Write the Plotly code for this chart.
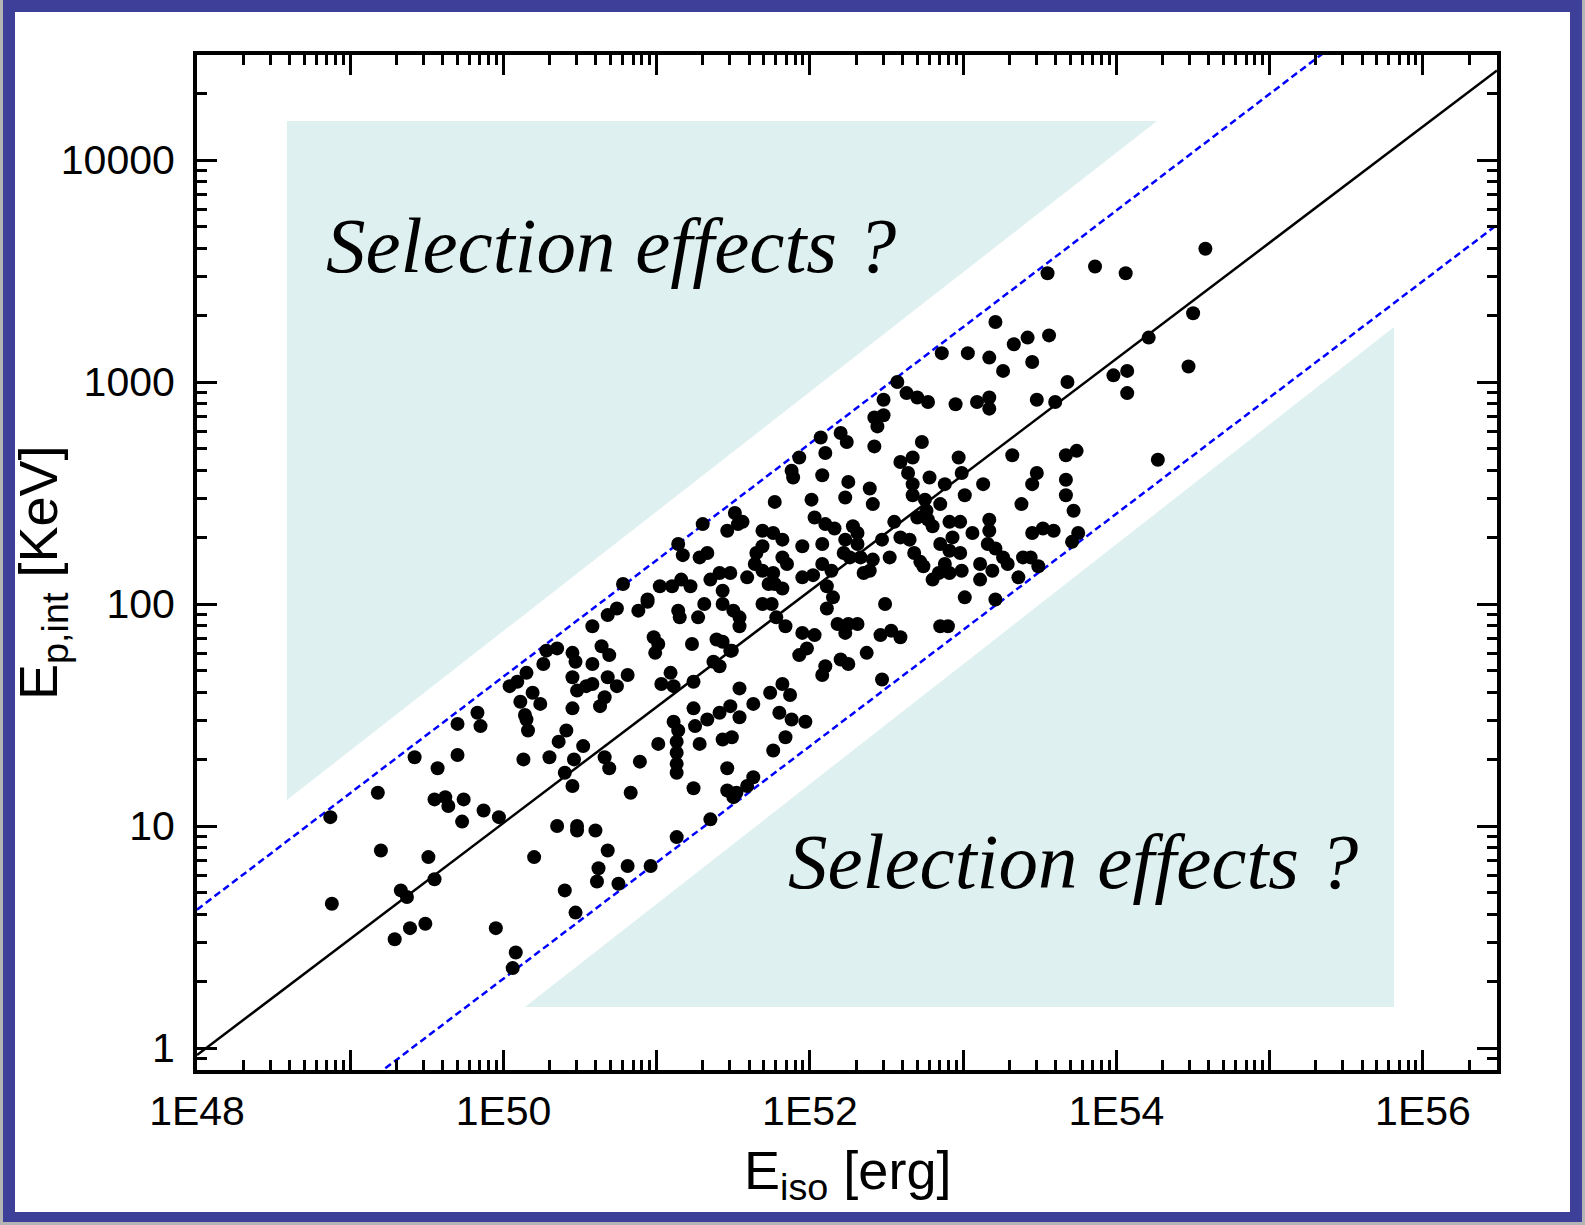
import plotly.graph_objects as go

# ---------------- data (log10 units) ----------------
log10_eiso = [
    # lower-left end of the band
    49.70, 49.85, 49.83, 50.16, 50.15, 50.41, 50.36, 50.52, 49.42, 49.70,
    49.57, 50.13, 50.30, 50.46, 50.40, 50.45, 50.66, 49.18, 48.87, 49.55,
    49.62, 49.64, 49.74, 49.73, 49.87, 49.97, 50.35, 50.48, 50.48, 50.60,
    50.68, 49.20, 49.51, 50.20, 50.62, 50.61, 49.55, 49.33, 49.37, 50.40,
    48.88, 50.47, 49.49, 49.39, 49.29, 49.95, 50.08, 50.06,
    # 1E50 - 1E51.5
    50.09, 50.15, 50.04, 50.11, 50.14, 50.24, 50.19, 50.28, 50.35, 50.26,
    50.45, 50.47, 50.58, 50.45, 50.54, 50.48, 50.58, 50.45, 50.63, 50.66,
    50.68, 50.74, 50.81, 50.64, 50.69, 50.58, 50.68, 50.74, 50.88, 50.94,
    51.14, 51.15, 51.27, 51.31, 51.43, 51.50, 51.54, 50.98, 51.01, 50.99,
    51.23, 51.43, 51.49, 51.03, 51.09, 51.11, 51.24, 51.37, 51.54, 51.24,
    51.11, 51.14, 51.13, 51.13, 51.13, 51.13, 51.25, 51.33, 51.41, 51.48,
    51.54, 51.01, 51.28, 51.43, 51.49, 50.89, 51.24, 51.46, 51.46, 51.52,
    51.59, 50.69, 50.83, 51.35, 51.13, 50.96, 50.81, 50.75,
    # 1E51 - 1E52
    51.30, 51.46, 51.53, 51.69, 51.76, 51.82, 51.95, 51.65, 51.69, 51.82,
    51.85, 51.64, 51.14, 51.17, 51.28, 51.33, 51.41, 51.48, 51.35, 51.43,
    51.59, 51.77, 51.82, 51.95, 51.02, 51.10, 51.16, 51.22, 50.78, 50.94,
    51.54, 51.69, 51.75, 51.78, 51.84, 51.95, 51.93, 51.41, 51.63, 51.74,
    51.82, 51.87, 51.80, 51.88, 51.97, 51.84, 51.76, 51.50, 51.63,
    # 1E52 - 1E53.6
    53.26, 52.57, 52.63, 52.70, 52.77, 52.48, 52.95, 53.09, 53.17, 53.17,
    53.48, 53.60, 52.42, 52.48, 52.44, 52.07, 52.20, 52.24, 51.93, 52.10,
    52.42, 52.73, 52.97, 53.32, 52.59, 52.67, 52.64, 51.88, 51.89, 52.08,
    52.99, 53.48, 53.45, 52.78, 52.67, 52.88, 53.13, 52.25, 52.23, 52.39,
    52.41, 52.67, 52.75, 53.01, 51.77, 52.01, 53.38, 52.85, 52.76, 52.70,
    52.77, 52.03, 52.10, 52.16, 52.28, 52.31, 52.55, 52.80, 52.91, 52.98,
    53.17, 53.17, 53.45, 53.52, 53.59, 52.93, 53.06, 52.59, 52.65, 52.08,
    52.23, 52.31, 52.47, 52.85, 52.91, 52.98, 53.16, 53.21, 53.26, 52.22,
    52.26, 52.33, 52.41, 52.52, 52.68, 52.72, 52.74, 53.39, 53.49, 52.08,
    52.14, 53.11, 53.19, 52.88, 52.99, 52.84, 52.80, 52.91, 51.69, 51.76,
    52.02, 52.35, 52.39, 53.11, 53.36, 52.11, 52.15, 52.11, 52.49, 53.01,
    53.21, 52.18, 52.25, 52.31, 52.23, 52.03, 52.46, 52.53, 52.59, 52.37,
    52.85, 52.90, 51.98, 52.10, 52.20, 52.25, 52.08, 52.47,
    52.86, 53.03, 53.17, 53.45, 51.51, 51.56, 51.73, 51.39, 51.48,
    # bright end
    54.58, 53.86, 54.06, 53.55, 53.21, 53.42, 53.56, 53.33, 54.50, 54.21,
    54.47, 53.98, 54.07, 54.07, 53.68, 53.67, 53.74, 54.27, 53.67, 53.67,
    53.72, 53.75, 53.71, 53.29, 53.44,
]

log10_ep = [
    1.46, 1.45, 1.51, 1.43, 1.48, 1.43, 1.38, 1.36, 1.31, 1.32,
    1.26, 1.30, 1.31, 1.30, 1.24, 1.18, 1.31, 1.15, 1.04, 1.12,
    1.13, 1.09, 1.12, 1.02, 1.07, 1.04, 1.00, 1.00, 0.98, 0.98,
    0.89, 0.89, 0.86, 0.86, 0.81, 0.75, 0.76, 0.71, 0.68, 0.71,
    0.65, 0.61, 0.56, 0.54, 0.49, 0.54, 0.43, 0.36,
    1.65, 1.69, 1.63, 1.56, 1.50, 1.55, 1.60, 1.79, 1.80, 1.73,
    1.78, 1.74, 1.73, 1.67, 1.63, 1.61, 1.64, 1.53, 1.54, 1.58,
    1.67, 1.63, 1.68, 1.81, 1.77, 1.90, 1.95, 1.98, 1.97, 2.01,
    1.97, 1.94, 1.94, 2.00, 2.00, 1.97, 1.90, 1.85, 1.82, 1.78,
    1.82, 1.83, 1.79, 1.64, 1.69, 1.63, 1.65, 1.74, 1.62, 1.53,
    1.47, 1.43, 1.38, 1.33, 1.28, 1.24, 1.45, 1.48, 1.51, 1.54,
    1.49, 1.37, 1.37, 1.39, 1.40, 1.29, 1.17, 1.26, 1.16, 1.15,
    1.18, 1.26, 1.15, 1.03, 0.95, 0.82, 0.82, 0.74,
    2.36, 2.33, 2.36, 2.33, 2.32, 2.29, 2.26, 2.23, 2.26, 2.21,
    2.18, 2.18, 2.27, 2.22, 2.21, 2.23, 2.14, 2.14, 2.11, 2.06,
    2.12, 2.09, 2.07, 2.12, 2.08, 2.08, 2.11, 2.08, 2.09, 2.02,
    1.94, 2.00, 2.00, 1.94, 1.90, 1.87, 1.77, 1.72, 1.55, 1.60,
    1.64, 1.59, 1.51, 1.48, 1.47, 1.40, 1.34, 1.13, 1.22,
    3.05, 3.00, 2.95, 2.93, 2.91, 2.92, 2.90, 2.91, 2.93, 2.88,
    2.92, 2.91, 2.84, 2.85, 2.80, 2.75, 2.77, 2.73, 2.66, 2.68,
    2.71, 2.73, 2.66, 2.67, 2.64, 2.66, 2.59, 2.60, 2.57, 2.58,
    2.59, 2.59, 2.54, 2.57, 2.54, 2.54, 2.54, 2.55, 2.48, 2.52,
    2.45, 2.49, 2.47, 2.49, 2.46, 2.47, 2.45, 2.45, 2.42, 2.39,
    2.38, 2.39, 2.36, 2.34, 2.35, 2.32, 2.37, 2.35, 2.37, 2.37,
    2.38, 2.33, 2.32, 2.34, 2.33, 2.30, 2.32, 2.30, 2.29, 2.27,
    2.29, 2.27, 2.29, 2.27, 2.24, 2.23, 2.27, 2.25, 2.21, 2.23,
    2.21, 2.21, 2.20, 2.21, 2.23, 2.19, 2.17, 2.21, 2.17, 2.18,
    2.15, 2.18, 2.15, 2.18, 2.15, 2.14, 2.11, 2.14, 2.15, 2.14,
    2.13, 2.14, 2.15, 2.11, 2.12, 2.08, 2.03, 1.98, 2.00, 2.03,
    2.02, 1.91, 1.91, 1.91, 1.87, 1.86, 1.86, 1.88, 1.85, 1.78,
    1.90, 1.90, 1.80, 1.72, 1.75, 1.73, 1.68, 1.66,
    3.13, 3.13, 3.11, 3.09, 2.41, 2.37, 2.09, 1.84, 1.79,
    3.60, 3.52, 3.49, 3.49, 3.27, 3.20, 3.21, 3.17, 3.31, 3.20,
    3.07, 3.03, 3.05, 2.95, 3.00, 2.67, 2.69, 2.65, 2.56, 2.49,
    2.42, 2.32, 2.28, 2.18, 2.21,
]
assert len(log10_eiso) == len(log10_ep)

# best-fit line and its +/- band (end points)
fit_eiso = [1.0e48, 3.04e56]
fit_ep = [0.93, 25300]
upper_eiso = [1.0e48, 1.0e56]
upper_ep = [4.2, 66500]
lower_eiso = [1.0e49, 3.04e56]
lower_ep = [0.615, 5100]

# shaded "selection effects" regions
sel_upper_eiso = [3.86e48, 1.84e54, 3.86e48]
sel_upper_ep = [15000, 15000, 13.1]
sel_lower_eiso = [1.38e50, 6.47e55, 6.47e55]
sel_lower_ep = [1.53, 1770, 1.53]

x_tickvals = [1e48, 1e49, 1e50, 1e51, 1e52, 1e53, 1e54, 1e55, 1e56]
x_ticktext = ["1E48", "", "1E50", "", "1E52", "", "1E54", "", "1E56"]
y_tickvals = [1, 10, 100, 1000, 10000]
y_ticktext = ["1", "10", "100", "1000", "10000"]

eiso = [10 ** v for v in log10_eiso]
ep = [10 ** v for v in log10_ep]

# ---------------- figure ----------------
W, H = 1585, 1225
L, R, T, B = 197, 88, 55, 155
PW, PH = W - L - R, H - T - B


def px(xp):
    return (xp - L) / PW


def py(yp):
    return (H - B - yp) / PH


SHADE = "#dff0f0"
SANS = "Liberation Sans, Arial, sans-serif"
SERIF = "Liberation Serif, Times New Roman, serif"

fig = go.Figure()
fig.add_trace(go.Scatter(x=sel_upper_eiso, y=sel_upper_ep, fill="toself", fillcolor=SHADE,
                         mode="none", hoverinfo="skip", showlegend=False))
fig.add_trace(go.Scatter(x=sel_lower_eiso, y=sel_lower_ep, fill="toself", fillcolor=SHADE,
                         mode="none", hoverinfo="skip", showlegend=False))
fig.add_trace(go.Scatter(x=upper_eiso, y=upper_ep, mode="lines",
                         line=dict(color="#0000ff", width=2.5, dash="7px,4px"), showlegend=False))
fig.add_trace(go.Scatter(x=lower_eiso, y=lower_ep, mode="lines",
                         line=dict(color="#0000ff", width=2.5, dash="7px,4px"), showlegend=False))
fig.add_trace(go.Scatter(x=fit_eiso, y=fit_ep, mode="lines",
                         line=dict(color="black", width=2.5), showlegend=False))
fig.add_trace(go.Scatter(x=eiso, y=ep, mode="markers",
                         marker=dict(color="black", size=14, line=dict(width=0)), showlegend=False))

axis_common = dict(
    type="log", showgrid=False, zeroline=False,
    showline=True, linecolor="black", linewidth=4, mirror="allticks",
    ticks="inside", ticklen=20, tickwidth=3, tickcolor="black",
    tickmode="array",
    tickfont=dict(family=SANS, size=41, color="black"),
    minor=dict(ticks="inside", ticklen=10, tickwidth=2.5, tickcolor="black", dtick="D1", showgrid=False),
)
fig.update_xaxes(range=[48, 56.483], tickvals=x_tickvals, ticktext=x_ticktext,
                 ticklabelstandoff=2, **axis_common)
fig.update_yaxes(range=[-0.099, 4.473], tickvals=y_tickvals, ticktext=y_ticktext,
                 ticklabelstandoff=10, **axis_common)

annots = [
    dict(text="<i>Selection effects ?</i>", x=px(324), y=py(246), xanchor="left", yanchor="middle",
         font=dict(family=SERIF, size=79, color="black")),
    dict(text="<i>Selection effects ?</i>", x=px(786), y=py(862), xanchor="left", yanchor="middle",
         font=dict(family=SERIF, size=79, color="black")),
    dict(text="E<sub>iso</sub> [erg]", x=px(847), y=py(1174), xanchor="center", yanchor="middle",
         font=dict(family=SANS, size=54, color="black")),
    dict(text="E<sub>p,int</sub> [KeV]", x=px(42), y=py(573), xanchor="center", yanchor="middle",
         textangle=-90, font=dict(family=SANS, size=54, color="black")),
]
for a in annots:
    a.update(xref="paper", yref="paper", showarrow=False)

shapes = [
    dict(type="rect", xref="paper", yref="paper", x0=px(3), x1=px(1582), y0=py(1222), y1=py(0),
         fillcolor="#3d3f98", line=dict(width=0), layer="below"),
    dict(type="rect", xref="paper", yref="paper", x0=px(15), x1=px(1570), y0=py(1212), y1=py(12),
         fillcolor="white", line=dict(width=0), layer="below"),
]

fig.update_layout(
    width=W, height=H,
    margin=dict(l=L, r=R, t=T, b=B, pad=0),
    paper_bgcolor="#b4b4b4", plot_bgcolor="white",
    annotations=annots, shapes=shapes, showlegend=False,
)

fig.write_html("out.html", include_plotlyjs=True, config={"displayModeBar": False})
